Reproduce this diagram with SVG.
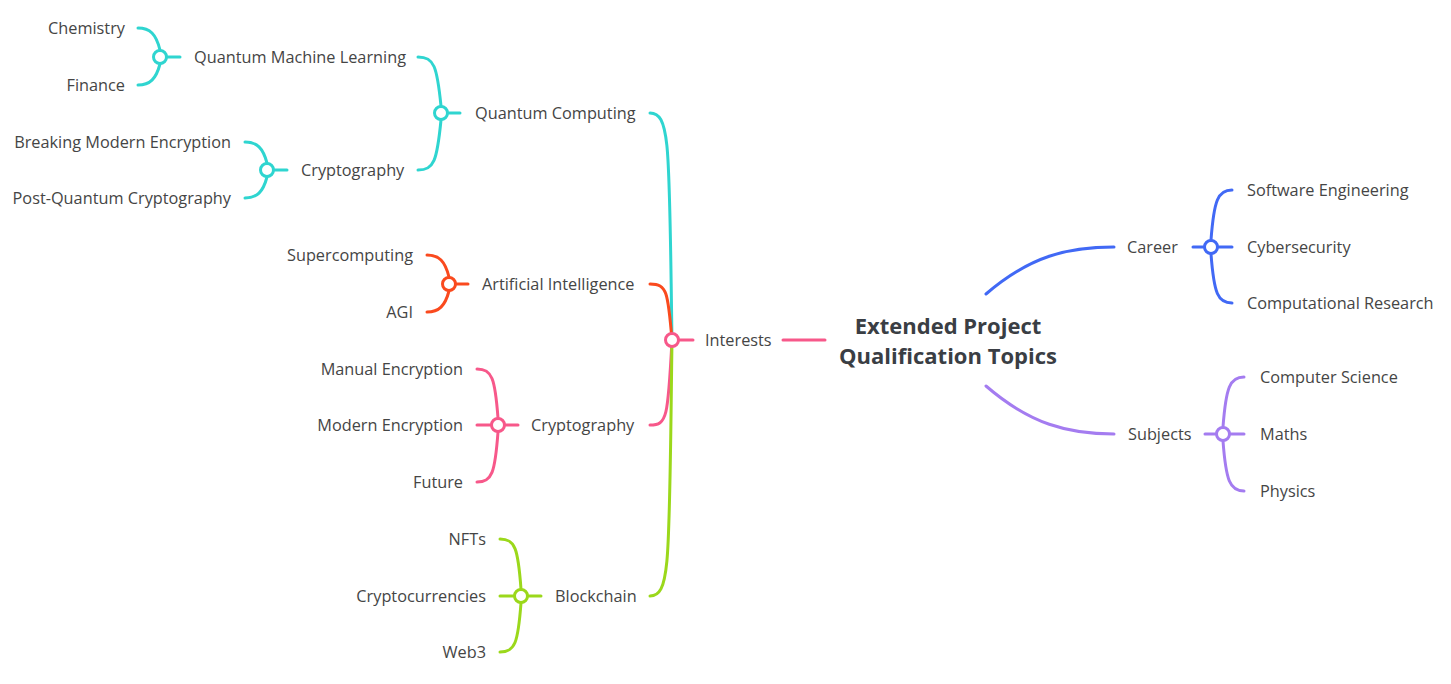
<svg xmlns="http://www.w3.org/2000/svg" width="1451" height="684" viewBox="0 0 1451 684">
<style>
text{font-family:"Open Sans","Liberation Sans",sans-serif;font-size:16.3px;fill:#454545}
.l{text-anchor:end}
.root{font-family:"Open Sans","Liberation Sans",sans-serif;font-weight:bold;font-size:22px;fill:#3a3e44;text-anchor:middle}
path{fill:none;stroke-width:3;stroke-linecap:round}
circle{fill:#fff;stroke-width:3}
.cy{stroke:#2fd5d0}.rd{stroke:#fa4a1e}.pk{stroke:#f7588a}.gn{stroke:#9bd81b}.bl{stroke:#4169f5}.pu{stroke:#a47cf0}
</style>
<rect width="1451" height="684" fill="#fff"/>
<g id="connectors">
<path class="pk" d="M783,340H825"/>
<path class="cy" d="M672,340C669,150 671,113 650,113"/>
<path class="rd" d="M672,340C668,292 667,284 650,284"/>
<path class="pk" d="M672,340C668,418 667,425 650,425"/>
<path class="gn" d="M672,340C669,560 671,596 650,596"/>
<path class="pk" d="M679,340H693"/>
<path class="cy" d="M448,113H460"/>
<path class="cy" d="M441,106C437,66 434,57 418,57M441,120C437,161 434,170 418,170"/>
<path class="cy" d="M167,57H180"/>
<path class="cy" d="M160,50C156,34 150,28 138,28M160,64C156,79 150,85 138,85"/>
<path class="cy" d="M274,170H287"/>
<path class="cy" d="M267,163C263,148 257,142 245,142M267,177C263,192 257,198 245,198"/>
<path class="rd" d="M456,284H468"/>
<path class="rd" d="M449,277C445,261 439,255 427,255M449,291C445,306 439,312 427,312"/>
<path class="pk" d="M505,425H518M477,425H491"/>
<path class="pk" d="M498,418C495,378 492,369 477,369M498,432C495,473 492,482 477,482"/>
<path class="gn" d="M528,596H541M500,596H514"/>
<path class="gn" d="M521,589C518,548 515,539 500,539M521,603C518,643 515,652 500,652"/>
<path class="bl" d="M986,294C1030,256 1068,247 1114,247"/>
<path class="bl" d="M1193,247H1204M1218,247H1232"/>
<path class="bl" d="M1211,240C1214,200 1218,190 1232,190M1211,254C1214,294 1218,303 1232,303"/>
<path class="pu" d="M986,386C1030,424 1068,434 1114,434"/>
<path class="pu" d="M1205,434H1216M1230,434H1244"/>
<path class="pu" d="M1223,427C1226,387 1230,377 1244,377M1223,441C1226,481 1230,491 1244,491"/>
</g>
<g id="root"><text class="root" x="948" y="334">Extended Project</text><text class="root" x="948" y="364">Qualification Topics</text></g>
<g id="interests"><circle class="pk" cx="672" cy="340" r="6.5"/><text x="705" y="346">Interests</text></g>
<g id="quantum-computing"><circle class="cy" cx="441" cy="113" r="6.5"/><text x="475" y="119">Quantum Computing</text></g>
<g id="qml"><circle class="cy" cx="160" cy="57" r="6.5"/><text x="194" y="63">Quantum Machine Learning</text></g>
<g id="chemistry"><text class="l" x="125" y="34">Chemistry</text></g>
<g id="finance"><text class="l" x="125" y="91">Finance</text></g>
<g id="q-cryptography"><circle class="cy" cx="267" cy="170" r="6.5"/><text x="301" y="176">Cryptography</text></g>
<g id="breaking"><text class="l" x="231" y="148">Breaking Modern Encryption</text></g>
<g id="pqc"><text class="l" x="231" y="204">Post-Quantum Cryptography</text></g>
<g id="ai"><circle class="rd" cx="449" cy="284" r="6.5"/><text x="482" y="290">Artificial Intelligence</text></g>
<g id="supercomputing"><text class="l" x="413" y="261">Supercomputing</text></g>
<g id="agi"><text class="l" x="413" y="318">AGI</text></g>
<g id="cryptography"><circle class="pk" cx="498" cy="425" r="6.5"/><text x="531" y="431">Cryptography</text></g>
<g id="manual"><text class="l" x="463" y="375">Manual Encryption</text></g>
<g id="modern"><text class="l" x="463" y="431">Modern Encryption</text></g>
<g id="future"><text class="l" x="463" y="488">Future</text></g>
<g id="blockchain"><circle class="gn" cx="521" cy="596" r="6.5"/><text x="555" y="602">Blockchain</text></g>
<g id="nfts"><text class="l" x="486" y="545">NFTs</text></g>
<g id="crypto"><text class="l" x="486" y="602">Cryptocurrencies</text></g>
<g id="web3"><text class="l" x="486" y="658">Web3</text></g>
<g id="career"><circle class="bl" cx="1211" cy="247" r="6.5"/><text x="1127" y="253">Career</text></g>
<g id="se"><text x="1247" y="196">Software Engineering</text></g>
<g id="cyber"><text x="1247" y="253">Cybersecurity</text></g>
<g id="cr"><text x="1247" y="309">Computational Research</text></g>
<g id="subjects"><circle class="pu" cx="1223" cy="434" r="6.5"/><text x="1128" y="440">Subjects</text></g>
<g id="cs"><text x="1260" y="383">Computer Science</text></g>
<g id="maths"><text x="1260" y="440">Maths</text></g>
<g id="physics"><text x="1260" y="497">Physics</text></g>
</svg>
